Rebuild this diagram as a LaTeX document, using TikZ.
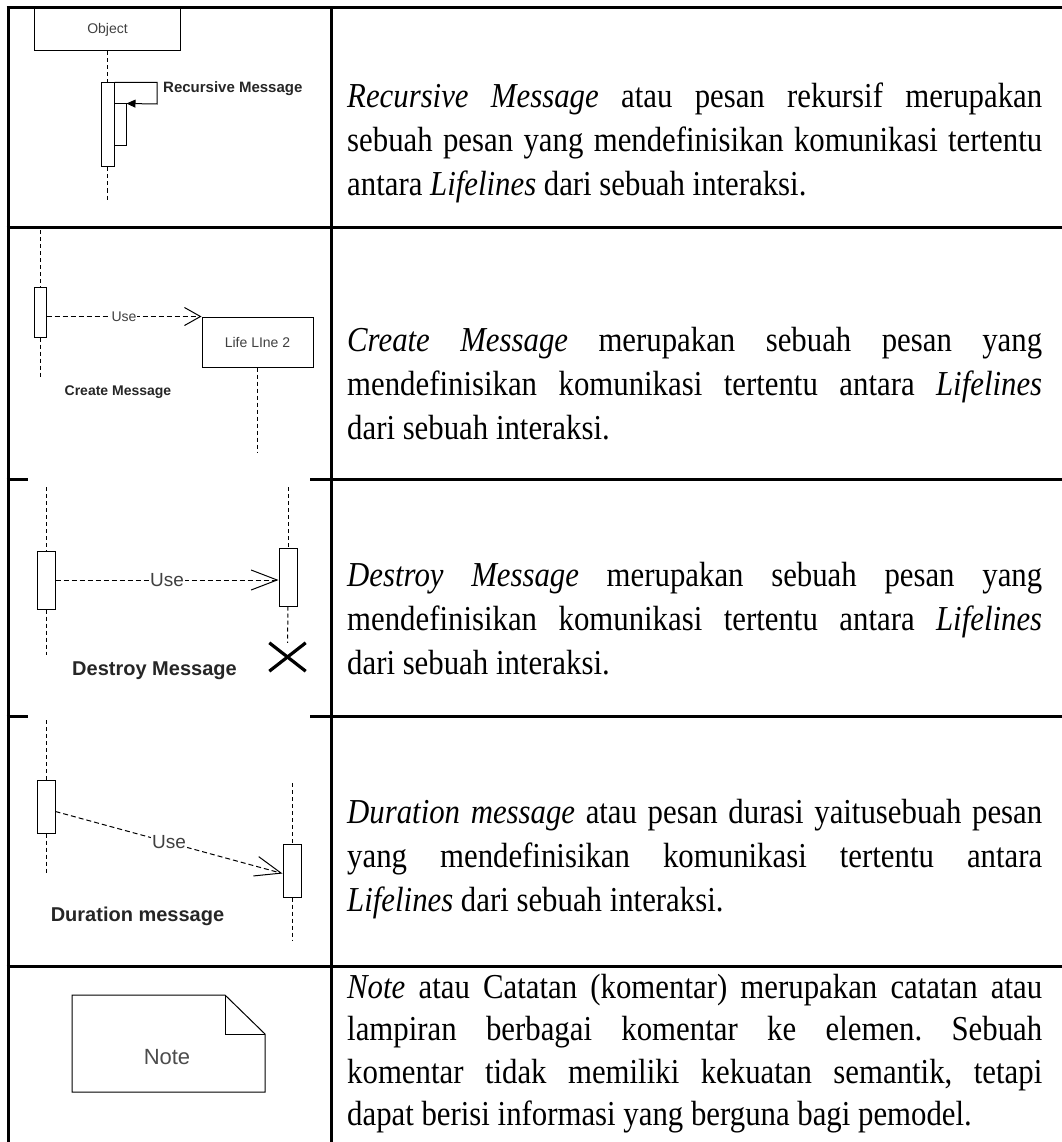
\documentclass[tikz,border=0pt]{standalone}
\usepackage{fontspec}
\setmainfont{Liberation Serif}[FakeStretch=0.88]
\newfontfamily\diafont{Liberation Sans}
\usetikzlibrary{arrows.meta}
\setlength{\parindent}{0pt}
\hyphenpenalty=10000
\tolerance=9999
\frenchspacing

\begin{document}
\begin{tikzpicture}[x=1pt, y=-1pt]
		\tikzset{grid/.style={line width=3pt},
			box/.style={draw, line width=1pt, inner sep=0pt, text=black!75, font=\diafont\fontsize{14}{16}\selectfont},
			bar/.style={draw, fill=white, line width=1pt, inner sep=0pt, minimum width=18},
			life/.style={line width=1pt, dash pattern=on 4pt off 3pt},
			msg/.style={line width=1pt, dash pattern=on 5pt off 3pt, -{Straight Barb[length=26pt, width=20pt]}},
			lbl/.style={inner sep=0pt, text=black!85, font=\diafont\bfseries\fontsize{20}{24}\selectfont},
			use/.style={fill=white, inner sep=1pt, text=black!75, font=\diafont\fontsize{19}{22}\selectfont},
			desc/.style={anchor=base west, inner sep=0pt, text width=695pt, align=justify, font=\fontsize{35}{44}\selectfont}};

		\useasboundingbox (0,0) rectangle (1061,1142);

		\node[box, minimum width=146, minimum height=42] (obj) at (107.5,30) {Object};
		\node[bar, minimum width=13, minimum height=84] (act1) at (107.5,125) {};
		\node[bar, minimum width=12, minimum height=42] (rec1) at (120,125) {};
		\coordinate (end1) at (107.5,200);
		\coordinate (turn1) at (157,104);
		\node[lbl, anchor=base west, font=\diafont\bfseries\fontsize{15}{18}\selectfont] (rlbl) at (163,93) {Recursive Message};

		\coordinate (top2) at (40,230);
		\node[bar, minimum width=12, minimum height=50] (act2) at (40,312) {};
		\coordinate (end2) at (40,377);
		\node[box, minimum width=111, minimum height=50] (ll2) at (257.5,342) {Life LIne 2};
		\coordinate (end2b) at (257.5,453);
		\node[lbl, font=\diafont\bfseries\fontsize{14}{16}\selectfont] (clbl) at (118,392) {Create Message};

		\coordinate (top3a) at (46,487);
		\node[bar, minimum height=58] (act3a) at (46,580) {};
		\coordinate (end3a) at (46,655);
		\coordinate (top3b) at (288,487);
		\node[bar, minimum height=58] (act3b) at (288,577) {};
		\node[inner sep=0pt, minimum width=36, minimum height=28] (x3) at (287.5,657) {};
		\node[lbl] (dlbl) at (154.5,671) {Destroy Message};

		\coordinate (top4a) at (46,720);
		\node[bar, minimum height=53] (act4a) at (46,806.5) {};
		\coordinate (end4a) at (46,875);
		\coordinate (top4b) at (292,783);
		\node[bar, minimum height=53] (act4b) at (292,870.5) {};
		\coordinate (end4b) at (292,940);
		\node[lbl] (dulbl) at (137.5,916) {Duration message};

		\draw[line width=1pt] (72,995) -- (225,995) -- (265,1034) -- (265,1092) -- (72,1092) -- cycle;
		\draw[line width=1pt] (225,995) |- (265,1034);
		\node[text=black!70, font=\diafont\fontsize{22}{26}\selectfont] (note) at (167,1057) {Note};

		\draw[life] (obj.south) to (act1.north);
		\draw[life] (act1.south) to (end1);
		\draw[line width=1pt, -{Triangle[length=9pt, width=8pt]}] (act1.north east) -| (turn1) to (rec1.north east);

		\draw[life] (top2) to (act2.north);
		\draw[life] (act2.south) to (end2);
		\draw[life] (ll2.south) to (end2b);
		\draw[msg, -{Straight Barb[length=16pt, width=18pt]}] (act2.east |- ll2.north west) to node[use, font=\diafont\fontsize{14}{16}\selectfont] {Use} (ll2.north west);

		\draw[life] (top3a) to (act3a.north);
		\draw[life] (act3a.south) to (end3a);
		\draw[life] (top3b) to (act3b.north);
		\draw[life] (act3b.south) to (x3.north);
		\draw[msg] (act3a.east) to node[use] {Use} (act3b.west |- act3a.east);
		\draw[line width=3.2pt] (x3.north west) to (x3.south east);
		\draw[line width=3.2pt] (x3.north east) to (x3.south west);

		\draw[life] (top4a) to (act4a.north);
		\draw[life] (act4a.south) to (end4a);
		\draw[life] (top4b) to (act4b.north);
		\draw[life] (act4b.south) to (end4b);
		\draw[msg] ([yshift=-5pt]act4a.east) to node[use] {Use} ([yshift=-3pt]act4b.west);

		\draw[grid] (8,6.5) to (8,1150);
		\draw[grid] (331,6.5) to (331,1150);
		\draw[grid] (6.5,8) to (1070,8);
		\draw[grid] (6.5,227) to (1070,227);
		\draw[grid] (6.5,479) to (28,479);
		\draw[grid] (310,479) to (1070,479);
		\draw[grid] (6.5,716) to (28,716);
		\draw[grid] (310,716) to (1070,716);
		\draw[grid] (6.5,966) to (1070,966);

		\node[desc] (t1) at (347,108) {\textit{Recursive Message} atau pesan rekursif merupakan\linebreak sebuah pesan yang mendefinisikan komunikasi tertentu\linebreak antara \textit{Lifelines} dari sebuah interaksi.};
		\node[desc] (t2) at (347,351) {\textit{Create Message} merupakan sebuah pesan yang\linebreak mendefinisikan komunikasi tertentu antara \textit{Lifelines}\linebreak dari sebuah interaksi.};
		\node[desc] (t3) at (347,586) {\textit{Destroy Message} merupakan sebuah pesan yang\linebreak mendefinisikan komunikasi tertentu antara \textit{Lifelines}\linebreak dari sebuah interaksi.};
		\node[desc] (t4) at (347,823) {\textit{Duration message} atau pesan durasi yaitusebuah pesan\linebreak yang mendefinisikan komunikasi tertentu antara\linebreak \textit{Lifelines} dari sebuah interaksi.};
		\node[desc, font=\fontsize{35}{42.5}\selectfont] (t5) at (347,998) {\textit{Note} atau Catatan (komentar) merupakan catatan atau\linebreak lampiran berbagai komentar ke elemen. Sebuah\linebreak komentar tidak memiliki kekuatan semantik, tetapi\linebreak dapat berisi informasi yang berguna bagi pemodel.};

	\end{tikzpicture}
\end{document}
